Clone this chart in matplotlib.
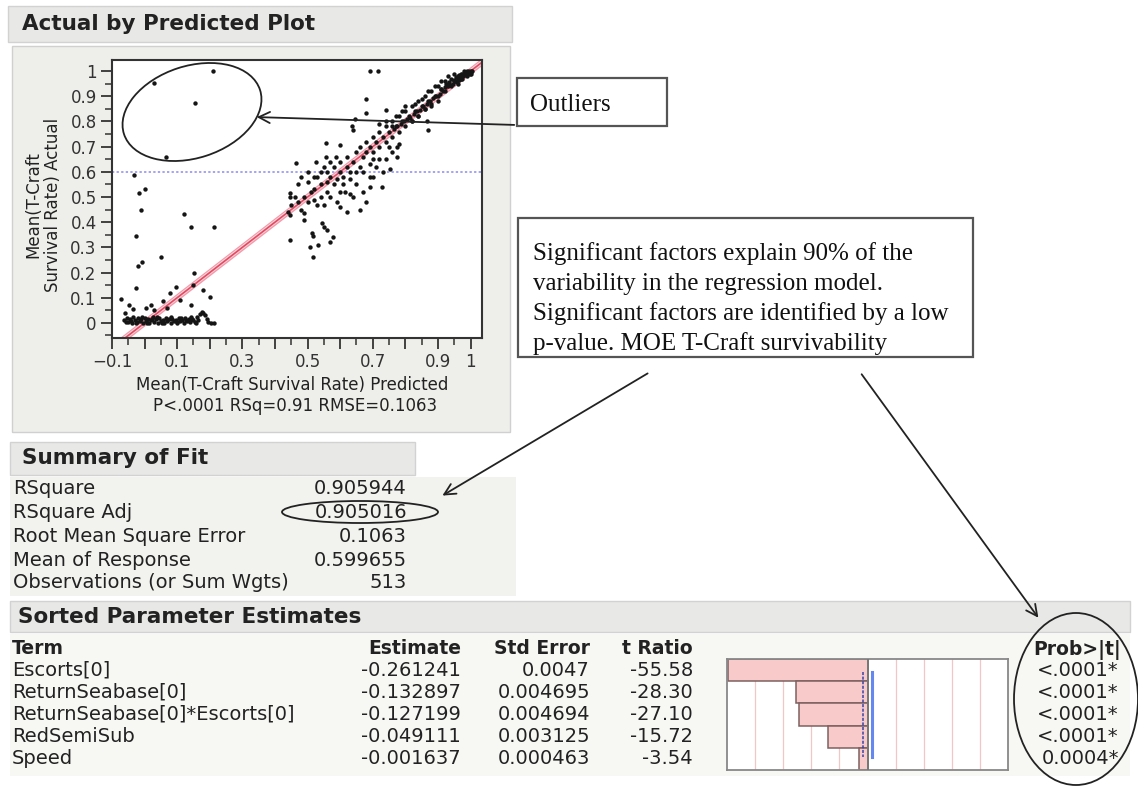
import numpy as np
import matplotlib
matplotlib.use("Agg")
import matplotlib.pyplot as plt
from matplotlib.patches import Rectangle, Ellipse
from matplotlib.ticker import MultipleLocator, FixedLocator

W, H = 1138, 787

# --- data ---
# Actual by Predicted scatter
pred_low = [-0.062, -0.055, -0.05, -0.045, -0.04, -0.036, -0.03, -0.026, -0.02, -0.015,
            -0.01, -0.005, 0.0, 0.004, 0.01, 0.015, 0.02, 0.025, 0.03, 0.035, 0.04, 0.045,
            0.05, 0.055, 0.06, 0.065, 0.07, 0.075, 0.08, 0.085, 0.09, 0.095, 0.1, 0.105,
            0.11, 0.115, 0.12, 0.125, 0.13, 0.135, 0.14, 0.145, 0.15, 0.155, 0.16, 0.165,
            0.17, 0.175, 0.18, 0.185, 0.19, 0.195, 0.205, 0.212,
            -0.058, -0.042, -0.022, -0.008, 0.008, 0.022, 0.038, 0.052, 0.068, 0.082,
            0.098, 0.112, 0.128, 0.142, 0.158]
act_low = [0.012, 0.02, 0.005, 0.015, 0.0, 0.022, 0.01, 0.0, 0.018, 0.006,
           0.014, 0.0, 0.02, 0.008, 0.015, 0.0, 0.01, 0.022, 0.005, 0.014, 0.0, 0.018,
           0.008, 0.012, 0.0, 0.02, 0.006, 0.014, 0.0, 0.016, 0.008, 0.012, 0.0, 0.018,
           0.006, 0.013, 0.0, 0.02, 0.008, 0.014, 0.002, 0.016, 0.01, 0.005, 0.022, 0.012,
           0.035, 0.045, 0.04, 0.03, 0.015, 0.005, 0.0, -0.002,
           0.003, 0.008, 0.004, 0.022, 0.0, 0.016, 0.025, 0.0, 0.012, 0.022,
           0.004, 0.02, 0.01, 0.022, 0.0]

pred_scat = [-0.032, -0.017, 0.0, -0.012, -0.027, -0.007, -0.019, 0.05, 0.122, 0.142,
             0.214, -0.027, -0.073, -0.048, 0.004, 0.055, 0.077, 0.096, 0.152, 0.147,
             0.18, 0.2, 0.142, 0.07, 0.03, -0.06, -0.035, 0.02, 0.11,
             0.209, 0.155, 0.067, 0.03]
act_scat = [0.587, 0.517, 0.53, 0.45, 0.345, 0.243, 0.224, 0.263, 0.432, 0.382,
            0.382, 0.138, 0.094, 0.071, 0.058, 0.085, 0.118, 0.142, 0.197, 0.15,
            0.131, 0.102, 0.071, 0.058, 0.05, 0.04, 0.055, 0.07, 0.09,
            1.0, 0.872, 0.66, 0.952]

pred_mid = [0.69, 0.716, 0.68, 0.68, 0.742, 0.645, 0.865, 0.87, 0.635, 0.64,
            0.555, 0.598, 0.465, 0.525, 0.555, 0.588, 0.445, 0.447, 0.44, 0.445,
            0.445, 0.49, 0.49, 0.515, 0.517, 0.506, 0.532, 0.518, 0.578, 0.545,
            0.55, 0.6, 0.615, 0.63, 0.69, 0.727, 0.69, 0.752, 0.70, 0.72,
            0.773, 0.78, 0.775,
            0.45, 0.46, 0.47, 0.48, 0.49, 0.5, 0.51, 0.52, 0.53, 0.54,
            0.56, 0.57, 0.59, 0.6, 0.62, 0.64, 0.65, 0.66, 0.67, 0.68,
            0.7, 0.71, 0.73, 0.74, 0.75, 0.76, 0.52, 0.54, 0.56, 0.57,
            0.59, 0.61, 0.63, 0.65, 0.67, 0.69, 0.55, 0.56, 0.57]
act_mid = [1.0, 1.0, 0.888, 0.835, 0.845, 0.808, 0.80, 0.768, 0.78, 0.765,
           0.713, 0.706, 0.634, 0.64, 0.66, 0.66, 0.515, 0.50, 0.44, 0.43,
           0.33, 0.435, 0.41, 0.356, 0.345, 0.303, 0.31, 0.263, 0.34, 0.396,
           0.47, 0.52, 0.52, 0.51, 0.54, 0.54, 0.58, 0.61, 0.65, 0.65,
           0.66, 0.71, 0.70,
           0.47, 0.5, 0.48, 0.45, 0.5, 0.48, 0.52, 0.49, 0.47, 0.5,
           0.52, 0.5, 0.48, 0.46, 0.44, 0.5, 0.55, 0.45, 0.52, 0.48,
           0.58, 0.62, 0.6, 0.65, 0.7, 0.68, 0.58, 0.55, 0.6, 0.64,
           0.57, 0.55, 0.57, 0.6, 0.6, 0.63, 0.38, 0.37, 0.32]

pred_band = [0.47, 0.48, 0.5, 0.5, 0.52, 0.53, 0.54, 0.55, 0.56, 0.57, 0.58, 0.58,
             0.6, 0.6, 0.61, 0.62, 0.62, 0.63, 0.64, 0.65, 0.66, 0.66, 0.67, 0.68,
             0.68, 0.69, 0.7, 0.7, 0.71, 0.72, 0.72, 0.73, 0.74, 0.74, 0.75, 0.76,
             0.76, 0.77, 0.78, 0.78, 0.79, 0.8, 0.8, 0.81, 0.82, 0.82, 0.83, 0.84,
             0.84, 0.85, 0.86, 0.86, 0.87, 0.88, 0.88, 0.89, 0.9, 0.9, 0.91, 0.92,
             0.92, 0.93, 0.94, 0.94, 0.95, 0.96, 0.96, 0.97, 0.97, 0.98, 0.98, 0.99,
             0.99, 1.0, 1.0, 0.93, 0.95, 0.91, 0.89, 0.87, 0.85, 0.83, 0.8, 0.79,
             0.77, 0.76, 0.74, 0.72]
act_band = [0.55, 0.58, 0.6, 0.56, 0.53, 0.58, 0.6, 0.62, 0.56, 0.58, 0.55, 0.62,
            0.6, 0.64, 0.58, 0.62, 0.66, 0.6, 0.64, 0.68, 0.62, 0.7, 0.66, 0.72,
            0.68, 0.7, 0.74, 0.68, 0.72, 0.76, 0.7, 0.74, 0.78, 0.72, 0.76, 0.8,
            0.74, 0.78, 0.82, 0.76, 0.8, 0.84, 0.78, 0.82, 0.86, 0.8, 0.84, 0.88,
            0.82, 0.86, 0.9, 0.85, 0.88, 0.92, 0.87, 0.9, 0.94, 0.9, 0.93, 0.96,
            0.92, 0.95, 0.97, 0.94, 0.96, 0.98, 0.95, 0.99, 0.97, 0.99, 1.0, 1.0,
            0.98, 1.0, 0.99, 0.98, 0.99, 0.96, 0.94, 0.92, 0.89, 0.87, 0.86, 0.84,
            0.82, 0.78, 0.8, 0.79]

pred_top = [0.95, 0.955, 0.96, 0.965, 0.97, 0.975, 0.98, 0.985, 0.99, 0.995, 1.0, 1.005,
            0.945, 0.952, 0.958, 0.963, 0.968, 0.973, 0.978, 0.983, 0.988, 0.993, 0.998,
            0.92, 0.925, 0.93, 0.935, 0.94, 0.905, 0.91, 0.915, 0.895, 0.885, 0.875,
            0.865, 0.855, 0.845, 0.835, 0.825, 0.815, 0.805, 0.795, 0.785, 0.775, 0.765,
            0.9, 0.88, 0.86, 0.84, 0.82]
act_top = [0.965, 0.975, 0.97, 0.985, 0.98, 0.99, 0.985, 0.995, 0.99, 1.0, 0.995, 1.0,
           0.95, 0.96, 0.955, 0.965, 0.975, 0.97, 0.98, 0.99, 0.985, 0.995, 0.99,
           0.935, 0.95, 0.94, 0.955, 0.945, 0.91, 0.93, 0.92, 0.9, 0.895, 0.88,
           0.87, 0.86, 0.845, 0.84, 0.83, 0.815, 0.81, 0.8, 0.79, 0.78, 0.77,
           0.88, 0.86, 0.85, 0.82, 0.8]

fit_x = [-0.1, 1.05]
x_ticks = [-0.1, 0, 0.1, 0.2, 0.3, 0.4, 0.5, 0.6, 0.7, 0.8, 0.9, 1.0]
x_tick_labels = ["\u22120.1", "", "0.1", "", "0.3", "", "0.5", "", "0.7", "", "0.9", "1"]
y_ticks = [0, 0.1, 0.2, 0.3, 0.4, 0.5, 0.6, 0.7, 0.8, 0.9, 1]
y_tick_labels = ["0", "0.1", "0.2", "0.3", "0.4", "0.5", "0.6", "0.7", "0.8", "0.9", "1"]

# Summary of Fit
fit_labels = ["RSquare", "RSquare Adj", "Root Mean Square Error", "Mean of Response",
              "Observations (or Sum Wgts)"]
fit_values = ["0.905944", "0.905016", "0.1063", "0.599655", "513"]
mean_response = 0.599655

# Sorted Parameter Estimates
terms = ["Escorts[0]", "ReturnSeabase[0]", "ReturnSeabase[0]*Escorts[0]", "RedSemiSub", "Speed"]
estimates = ["-0.261241", "-0.132897", "-0.127199", "-0.049111", "-0.001637"]
std_errors = ["0.0047", "0.004695", "0.004694", "0.003125", "0.000463"]
t_ratios = [-55.58, -28.30, -27.10, -15.72, -3.54]
probs = ["<.0001*", "<.0001*", "<.0001*", "<.0001*", "0.0004*"]


def rect(x0, y0, x1, y1):
    # pixel box (top-left origin) -> figure fraction
    return [x0 / W, 1 - y1 / H, (x1 - x0) / W, (y1 - y0) / H]


fig = plt.figure(figsize=(W / 100, H / 100), dpi=100)
fig.patch.set_facecolor("white")

bg = fig.add_axes([0, 0, 1, 1], zorder=0)
bg.set_xlim(0, W)
bg.set_ylim(H, 0)
bg.axis("off")

hdr_col = "#e8e8e6"
txt_col = "#222222"

# panels
bg.add_patch(Rectangle((8, 6), 504, 36, fc=hdr_col, ec="#d2d2d2", lw=1))
bg.add_patch(Rectangle((12, 46), 498, 386, fc="#eeeeea", ec="#d0d0d0", lw=1))
bg.add_patch(Rectangle((10, 442), 405, 33, fc=hdr_col, ec="#d2d2d2", lw=1))
bg.add_patch(Rectangle((10, 477), 506, 119, fc="#f2f2ee", ec="none"))
bg.add_patch(Rectangle((10, 601), 1120, 31, fc=hdr_col, ec="#d2d2d2", lw=1))
bg.add_patch(Rectangle((10, 634), 1120, 142, fc="#f7f7f3", ec="none"))

bg.text(22, 24, "Actual by Predicted Plot", fontsize=15.5, fontweight="bold",
        color=txt_col, va="center")
bg.text(22, 458, "Summary of Fit", fontsize=15.5, fontweight="bold",
        color=txt_col, va="center")
bg.text(18, 617, "Sorted Parameter Estimates", fontsize=15.5, fontweight="bold",
        color=txt_col, va="center")

# axis captions of the scatter
bg.text(43, 205, "Mean(T-Craft\nSurvival Rate) Actual", rotation=90, fontsize=12,
        ha="center", va="center", color=txt_col, linespacing=1.15)
bg.text(292, 385, "Mean(T-Craft Survival Rate) Predicted", fontsize=12,
        ha="center", va="center", color=txt_col)
bg.text(295, 406, "P<.0001 RSq=0.91 RMSE=0.1063", fontsize=12,
        ha="center", va="center", color=txt_col)

# summary of fit rows
row_y = [488, 512, 536, 560, 583]
for lab, val, yy in zip(fit_labels, fit_values, row_y):
    bg.text(13, yy, lab, fontsize=14, va="center", color=txt_col)
    bg.text(407, yy, val, fontsize=14, va="center", ha="right", color=txt_col)

# parameter table
col_right = [461, 590, 693]
bg.text(12, 648, "Term", fontsize=13.5, fontweight="bold", va="center", color=txt_col)
for head, xr in zip(["Estimate", "Std Error", "t Ratio"], col_right):
    bg.text(xr, 648, head, fontsize=13.5, fontweight="bold", va="center", ha="right", color=txt_col)
bg.text(1121, 650, "Prob>|t|", fontsize=13.5, fontweight="bold", va="center", ha="right", color=txt_col)
tab_y = [670, 692, 714, 737, 759]
for i, yy in enumerate(tab_y):
    bg.text(12, yy, terms[i], fontsize=14, va="center", color=txt_col)
    bg.text(col_right[0], yy, estimates[i], fontsize=14, va="center", ha="right", color=txt_col)
    bg.text(col_right[1], yy, std_errors[i], fontsize=14, va="center", ha="right", color=txt_col)
    bg.text(col_right[2], yy, "%.2f" % t_ratios[i], fontsize=14, va="center", ha="right", color=txt_col)
    bg.text(1119, yy, probs[i], fontsize=14, va="center", ha="right", color=txt_col)

# annotation boxes
bg.add_patch(Rectangle((517, 78), 150, 48, fc="white", ec="#555555", lw=1.6))
bg.text(530, 105, "Outliers", fontsize=18, family="Liberation Serif", va="center", color="#111111")
bg.add_patch(Rectangle((518, 218), 455, 139, fc="white", ec="#555555", lw=1.6))
sig_lines = ["Significant factors explain 90% of the",
             "variability in the regression model.",
             "Significant factors are identified by a low",
             "p-value. MOE T-Craft survivability"]
for k, line in enumerate(sig_lines):
    bg.text(533, 254 + 30 * k, line, fontsize=18, family="Liberation Serif",
            va="center", color="#111111")

# --- scatter: actual by predicted ---
ax = fig.add_axes(rect(112, 60, 482, 338), zorder=2)
ax.set_facecolor("white")
xs = pred_low + pred_scat + pred_mid + pred_band + pred_top
ys = act_low + act_scat + act_mid + act_band + act_top
fx = np.array(fit_x)
ax.fill_between(fx, fx - 0.012, fx + 0.012, color="#fbd3da", lw=0, zorder=1)
ax.plot(fx, fx - 0.012, color="#f29aaa", lw=0.9, zorder=2)
ax.plot(fx, fx + 0.012, color="#f29aaa", lw=0.9, zorder=2)
ax.plot(fx, fx, color="#e24a62", lw=1.2, zorder=2)
ax.axhline(mean_response, color="#8a8af0", lw=1.1, ls=(0, (1.5, 1.5)), zorder=1)
ax.scatter(xs, ys, s=10, color="#151515", lw=0, zorder=3)
ax.set_xlim(-0.1, 1.035)
ax.set_ylim(-0.06, 1.044)
ax.xaxis.set_major_locator(FixedLocator(x_ticks))
ax.set_xticklabels(x_tick_labels)
ax.xaxis.set_minor_locator(MultipleLocator(0.05))
ax.set_yticks(y_ticks)
ax.set_yticklabels(y_tick_labels)
ax.yaxis.set_minor_locator(MultipleLocator(0.05))
ax.tick_params(which="major", direction="out", length=8, width=1.3, colors="#333333",
               labelsize=12, pad=3)
ax.tick_params(which="minor", direction="out", length=5, width=1.1, colors="#333333")
for sp in ax.spines.values():
    sp.set_color("#333333")
    sp.set_linewidth(1.5)

# --- t ratio bars ---
axb = fig.add_axes(rect(727, 659, 1008, 770), zorder=2)
axb.set_facecolor("white")
lim = 55.8
for k in [-4, -3, -2, -1, 1, 2, 3, 4]:
    axb.axvline(k * lim / 5, color="#f1c6c6", lw=0.9, zorder=0)
ypos = np.arange(len(t_ratios)) + 0.5
axb.barh(ypos, t_ratios, height=1.0, left=0, color="#f9caca", edgecolor="#7d6060", lw=1.1, zorder=2)
axb.axvline(0, color="#777777", lw=1.4, zorder=3)
axb.plot([-1.965, -1.965], [0.6, 4.4], color="#3344aa", lw=1.1, ls=(0, (2, 1)), zorder=4)
axb.plot([1.965, 1.965], [0.6, 4.4], color="#6688ee", lw=2.2, zorder=4)
axb.set_xlim(-lim, lim)
axb.set_ylim(5, 0)
axb.set_xticks([])
axb.set_yticks([])
for sp in axb.spines.values():
    sp.set_color("#888888")
    sp.set_linewidth(1.3)

# --- hand drawn callouts on top ---
ov = fig.add_axes([0, 0, 1, 1], zorder=10)
ov.set_xlim(0, W)
ov.set_ylim(H, 0)
ov.axis("off")
ov.patch.set_alpha(0)

ov.add_patch(Ellipse((192, 112), 143, 92, angle=-18, fill=False, ec="#222222", lw=1.3))
ov.add_patch(Ellipse((360, 512), 156, 22, angle=0, fill=False, ec="#222222", lw=1.3))
ov.add_patch(Ellipse((1076, 699), 124, 172, angle=0, fill=False, ec="#222222", lw=1.3))

arrow = dict(arrowstyle="->", color="#222222", lw=1.3, mutation_scale=20)
ov.annotate("", xy=(254, 117), xytext=(517, 125), arrowprops=arrow)
ov.annotate("", xy=(440, 497), xytext=(650, 372), arrowprops=arrow)
ov.annotate("", xy=(1040, 620), xytext=(860, 372), arrowprops=arrow)

fig.savefig("out.png", dpi=100)
